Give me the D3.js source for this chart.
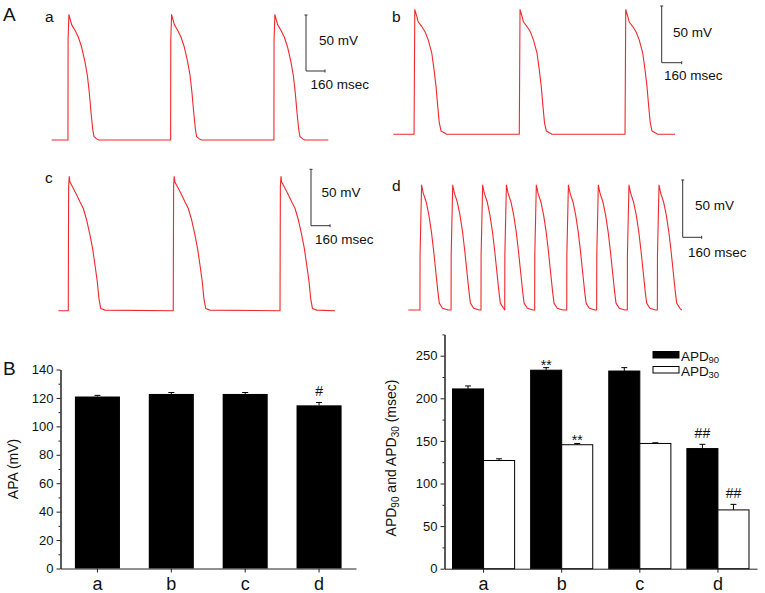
<!DOCTYPE html>
<html>
<head>
<meta charset="utf-8">
<script src="https://cdn.jsdelivr.net/npm/d3@7"></script>
<style>
  body { margin: 0; background: #fff; }
  svg text { font-family: "Liberation Sans", Arial, Helvetica, sans-serif; fill: #111; }
</style>
</head>
<body>
<svg id="fig" width="765" height="593"></svg>
<script>
// ---- data ----
var groups = ["a", "b", "c", "d"];

// B left: action potential amplitude (mV)
var apa      = [121, 122.8, 122.8, 114.8];
var apaErr   = [0.8, 1.0, 1.0, 2.0];
var apaMarks = ["", "", "", "#"];
var apaTicks = [0, 20, 40, 60, 80, 100, 120, 140];

// B right: APD90 / APD30 (msec)
var apd90      = [211, 233, 232, 141];
var apd90Err   = [3.5, 3, 4, 5];
var apd90Marks = ["", "**", "", "##"];
var apd30      = [127, 145.5, 147, 69];
var apd30Err   = [2, 1.5, 0.8, 6.5];
var apd30Marks = ["", "**", "", "##"];
var apdTicks   = [0, 50, 100, 150, 200, 250];

// A: one beat per trace, [ms after upstroke, mV]
var beatA = [[0,-80],[1,9],[8,32],[31,23],[59,18],[87,12],[115,3],[143,-10],[163,-22],[179,-37],[194,-55],[208,-70],[219,-77],[242,-79],[260,-80]];
var beatB = [[0,-80],[6,30],[22,24],[34,19],[62,15],[88,10.5],[114,3],[142,-8.5],[160,-23],[176,-38],[190,-56],[202,-70],[216,-77],[248,-79],[260,-80]];
var beatC = [[0,-80],[1,-37],[3,30],[8,39],[14,34],[42,28.5],[71,22.6],[98,16.6],[126,10.8],[155,0.4],[183,-13],[205,-25],[225,-39.5],[244,-54],[258,-69],[273,-78],[309,-79.5]];
var beatD = [[0,-80],[1,-32],[14,29],[28,22],[52,14.5],[75,3],[97,-12],[116,-29],[134,-47],[151,-64],[163,-74],[190,-78.5],[238,-80]];

// upstroke times within each trace (ms) and trace lengths (ms)
var onsetsA = [137, 1002, 1872];
var onsetsB = [166, 1008, 1854];
var onsetsC = [84, 968, 1867];
var onsetsD = [98, 360, 612, 812, 1064, 1334, 1586, 1844, 2097];
var lengths = [2330, 2254, 2330, 2302];
var restMv = -80;

var scaleBarMv = 50, scaleBarMs = 160;

// ---- drawing ----
var svg = d3.select("#fig");
var red = "#f0282d";

var panels = [
  { name: "a", beat: beatA, onsets: onsetsA, len: lengths[0], x0: 51.7, x1: 328.3, rest: 140,   k: 1.12,  lab: [45, 21.5],  bar: [306, 71],    mv: [319, 45],    ms: [310.5, 89] },
  { name: "b", beat: beatB, onsets: onsetsB, len: lengths[1], x0: 393.3, x1: 675,  rest: 134.3, k: 1.134, lab: [392, 21.5], bar: [661.7, 62.7], mv: [673, 36.5], ms: [664, 80] },
  { name: "c", beat: beatC, onsets: onsetsC, len: lengths[2], x0: 58.3, x1: 335,   rest: 310.7, k: 1.128, lab: [45, 183],   bar: [311, 225.7], mv: [321.5, 197], ms: [315, 244] },
  { name: "d", beat: beatD, onsets: onsetsD, len: lengths[3], x0: 408.3, x1: 681.7, rest: 310,  k: 1.146, lab: [392, 190.5], bar: [682.7, 237.3], mv: [695, 210], ms: [688, 256.5] }
];

svg.append("text").attr("x", 3).attr("y", 20.5).attr("font-size", 19).text("A");
svg.append("text").attr("x", 3).attr("y", 375).attr("font-size", 19).text("B");

panels.forEach(function(p) {
  var x = d3.scaleLinear().domain([0, p.len]).range([p.x0, p.x1]);
  var y = d3.scaleLinear().domain([restMv, restMv + 120]).range([p.rest, p.rest - 120 * p.k]);

  var pts = [[0, restMv]];
  p.onsets.forEach(function(t0, i) {
    var next = i < p.onsets.length - 1 ? p.onsets[i + 1] : p.len;
    p.beat.forEach(function(d) {
      if (t0 + d[0] < next) pts.push([t0 + d[0], d[1]]);
    });
  });
  pts.push([p.len, restMv]);

  var line = d3.line().x(function(d) { return x(d[0]); }).y(function(d) { return y(d[1]); });
  svg.append("path").datum(pts)
    .attr("d", line)
    .attr("fill", "none")
    .attr("stroke", red)
    .attr("stroke-width", 1.1)
    .attr("stroke-linejoin", "round");

  svg.append("text").attr("x", p.lab[0]).attr("y", p.lab[1]).attr("font-size", 15.5).text(p.name);

  // scale bar
  var bx = p.bar[0], by = p.bar[1];
  var vLen = y(restMv) - y(restMv + scaleBarMv);
  var hLen = x(scaleBarMs) - x(0);
  var sb = svg.append("g").attr("stroke", "#333").attr("stroke-width", 1).attr("fill", "none");
  sb.append("path").attr("d",
    "M" + bx + "," + (by - vLen) + "V" + by + "H" + (bx + hLen) +
    "M" + (bx - 1.5) + "," + (by - vLen) + "H" + (bx + 1.5) +
    "M" + (bx + hLen) + "," + (by - 1.5) + "V" + (by + 1.5));
  svg.append("text").attr("x", p.mv[0]).attr("y", p.mv[1]).attr("font-size", 13.5).text(scaleBarMv + " mV");
  svg.append("text").attr("x", p.ms[0]).attr("y", p.ms[1]).attr("font-size", 13.5).text(scaleBarMs + " msec");
});

function styleAxis(g) {
  g.attr("font-family", "Liberation Sans, Arial, sans-serif").attr("font-size", 13);
  g.selectAll("path, line").attr("stroke", "#222");
  g.selectAll("text").attr("fill", "#111");
}
function midpoints(t) {
  var m = [];
  for (var i = 0; i < t.length - 1; i++) m.push((t[i] + t[i + 1]) / 2);
  return m;
}

// ---- B left: APA ----
(function() {
  var x = d3.scaleBand().domain(groups).range([60.5, 356]).paddingInner(0.39).paddingOuter(0.195);
  var y = d3.scaleLinear().domain([0, 140]).range([568.5, 369.5]);
  var g = svg.append("g");

  g.selectAll("rect").data(groups).join("rect")
    .attr("x", function(d) { return x(d); })
    .attr("y", function(d, i) { return y(apa[i]); })
    .attr("width", x.bandwidth())
    .attr("height", function(d, i) { return y(0) - y(apa[i]); })
    .attr("fill", "#000");

  groups.forEach(function(d, i) {
    var cx = x(d) + x.bandwidth() / 2;
    g.append("path").attr("stroke", "#000").attr("fill", "none")
      .attr("d", "M" + cx + "," + y(apa[i]) + "V" + y(apa[i] + apaErr[i]) + "M" + (cx - 3) + "," + y(apa[i] + apaErr[i]) + "H" + (cx + 3));
    if (apaMarks[i]) g.append("text").attr("x", cx).attr("y", y(apa[i] + apaErr[i]) - 6)
      .attr("text-anchor", "middle").attr("font-size", 14).text(apaMarks[i]);
  });

  var ya = g.append("g").attr("transform", "translate(60.5,0)")
    .call(d3.axisLeft(y).tickValues(apaTicks).tickSize(4).tickPadding(3).tickSizeOuter(0));
  styleAxis(ya);
  var yb = g.append("g").attr("transform", "translate(60.5,0)")
    .call(d3.axisLeft(y).tickValues(midpoints(apaTicks)).tickSize(2).tickFormat("").tickSizeOuter(0));
  styleAxis(yb);

  var xa = g.append("g").attr("transform", "translate(0,568.5)")
    .call(d3.axisBottom(x).tickSize(4).tickPadding(5).tickSizeOuter(0));
  styleAxis(xa);
  xa.selectAll("text").attr("font-size", 18);

  g.append("text").attr("transform", "translate(18,469) rotate(-90)")
    .attr("text-anchor", "middle").attr("font-size", 14).text("APA (mV)");
})();

// ---- B right: APD90 / APD30 ----
(function() {
  var keys = ["APD90", "APD30"];
  var vals = [apd90, apd30], errs = [apd90Err, apd30Err], marks = [apd90Marks, apd30Marks];
  var fills = ["#000", "#fff"];
  var x0 = d3.scaleBand().domain(groups).range([444.5, 757]).paddingInner(0.205).paddingOuter(0.1025);
  var x1 = d3.scaleBand().domain(keys).range([0, x0.bandwidth()]);
  var y = d3.scaleLinear().domain([0, 275]).range([568.7, 334.4]);
  var g = svg.append("g");

  keys.forEach(function(k, s) {
    groups.forEach(function(d, i) {
      var bx = x0(d) + x1(k);
      g.append("rect").attr("x", bx).attr("y", y(vals[s][i]))
        .attr("width", x1.bandwidth()).attr("height", y(0) - y(vals[s][i]))
        .attr("fill", fills[s]).attr("stroke", "#000").attr("stroke-width", 1);
      var cx = bx + x1.bandwidth() / 2;
      var top = y(vals[s][i] + errs[s][i]);
      g.append("path").attr("stroke", "#000").attr("fill", "none")
        .attr("d", "M" + cx + "," + y(vals[s][i]) + "V" + top + "M" + (cx - 3) + "," + top + "H" + (cx + 3));
      if (marks[s][i]) g.append("text").attr("x", cx).attr("y", top - (marks[s][i] === "**" ? -2 : 6))
        .attr("text-anchor", "middle").attr("font-size", 14).text(marks[s][i]);
    });
  });

  var ya = g.append("g").attr("transform", "translate(444.5,0)")
    .call(d3.axisLeft(y).tickValues(apdTicks).tickSize(4).tickPadding(3).tickSizeOuter(0));
  styleAxis(ya);
  var minor = midpoints(apdTicks).concat([275]);
  var yb = g.append("g").attr("transform", "translate(444.5,0)")
    .call(d3.axisLeft(y).tickValues(minor).tickSize(2).tickFormat("").tickSizeOuter(0));
  styleAxis(yb);

  var xa = g.append("g").attr("transform", "translate(0,568.7)")
    .call(d3.axisBottom(x0).tickSize(4).tickPadding(5).tickSizeOuter(0));
  styleAxis(xa);
  xa.selectAll("text").attr("font-size", 18);

  var t = g.append("text").attr("transform", "translate(396,458) rotate(-90)")
    .attr("text-anchor", "middle").attr("font-size", 14);
  t.append("tspan").text("APD");
  t.append("tspan").attr("font-size", 10).attr("dy", 3).text("90");
  t.append("tspan").attr("dy", -3).text(" and APD");
  t.append("tspan").attr("font-size", 10).attr("dy", 3).text("30");
  t.append("tspan").attr("dy", -3).text(" (msec)");

  // legend: main label and subscript as separate texts
  var lg = g.append("g");
  keys.forEach(function(k, s) {
    var ly = 351.5 + s * 15;
    lg.append("rect").attr("x", 653).attr("y", ly).attr("width", 26).attr("height", 6.5)
      .attr("fill", fills[s]).attr("stroke", "#000").attr("stroke-width", 1);
    lg.append("text").attr("x", 681).attr("y", ly + 9).attr("font-size", 13.5).text(k.slice(0, 3));
    lg.append("text").attr("x", 708.5).attr("y", ly + 11).attr("font-size", 9.5).text(k.slice(3));
  });
})();
</script>
</body>
</html>
